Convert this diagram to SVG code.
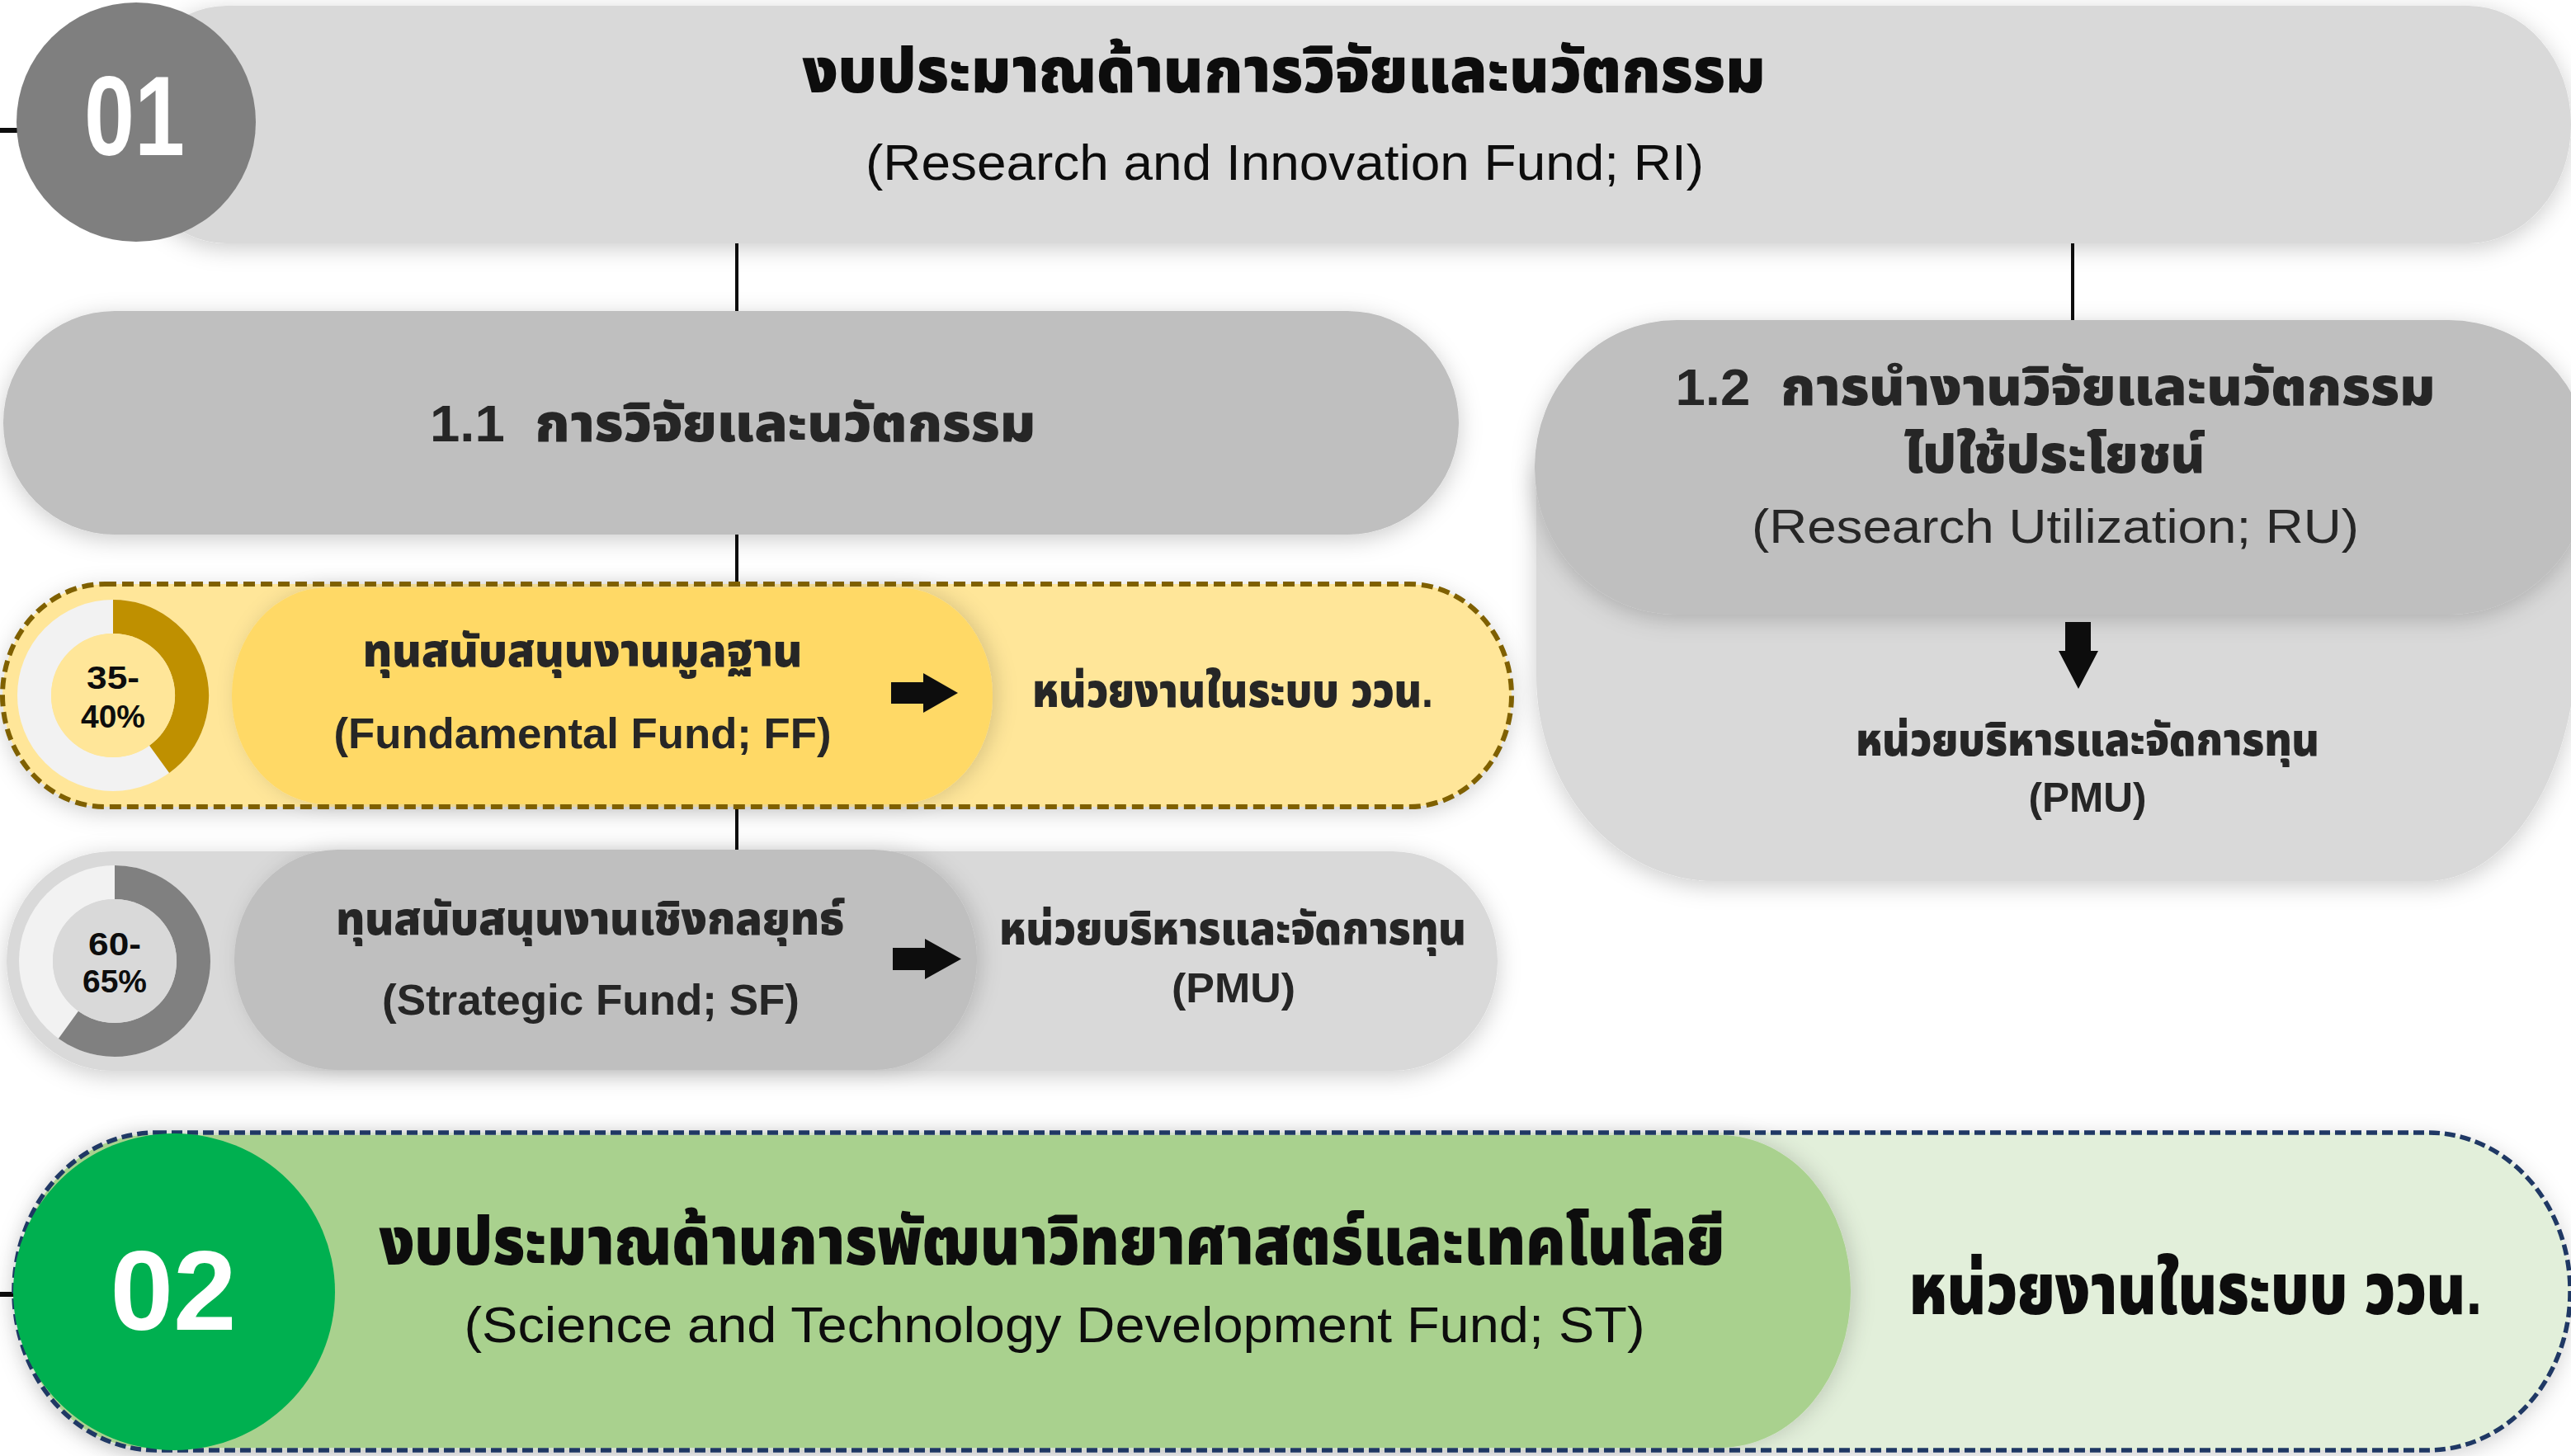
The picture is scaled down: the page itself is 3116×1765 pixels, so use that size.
<svg xmlns="http://www.w3.org/2000/svg" width="3116" height="1765" viewBox="0 0 3116 1765">
<defs>
<filter id="sh" x="-10%" y="-30%" width="120%" height="160%">
<feDropShadow dx="0" dy="6" stdDeviation="14" flood-color="#000" flood-opacity="0.2"/>
</filter>
<filter id="sh2" x="-10%" y="-20%" width="120%" height="140%">
<feDropShadow dx="6" dy="0" stdDeviation="12" flood-color="#000" flood-opacity="0.15"/>
</filter>
<style>
.t{font-family:'Liberation Sans','Noto Sans Thai','Noto Sans Thai UI',sans-serif;text-anchor:middle;white-space:pre}
.b{font-weight:900}
.k{fill:#0d0d0d}
.g{fill:#262626}
.w{fill:#ffffff}
.ln{stroke:#0d0d0d;stroke-width:4;fill:none}
.ar{fill:#0d0d0d}
</style>
</defs>
<rect width="3116" height="1765" fill="#ffffff"/>

<g id="connectors">
<line class="ln" x1="0" y1="158" x2="24" y2="158" style="stroke-width:6"/>
<line class="ln" x1="893" y1="295" x2="893" y2="380"/>
<line class="ln" x1="2512" y1="295" x2="2512" y2="390"/>
<line class="ln" x1="893" y1="646" x2="893" y2="710"/>
<line class="ln" x1="893" y1="976" x2="893" y2="1032"/>
<line class="ln" x1="0" y1="1569" x2="20" y2="1569" style="stroke-width:6"/>
</g>

<g id="n01">
<rect x="150" y="7" width="2966" height="288" rx="125" ry="144" fill="#d9d9d9" filter="url(#sh)"/>
<circle cx="165" cy="148" r="145" fill="#7f7f7f"/>
<text class="t b w" x="163" y="188" font-size="138" textLength="122" lengthAdjust="spacingAndGlyphs">01</text>
<text class="t b k" x="1556" y="112" font-size="76" textLength="1167" lengthAdjust="spacingAndGlyphs">งบประมาณด้านการวิจัยและนวัตกรรม</text>
<text class="t k" x="1557" y="218" font-size="62" textLength="1016" lengthAdjust="spacingAndGlyphs">(Research and Innovation Fund; RI)</text>
</g>

<g id="n11">
<rect x="4" y="377" width="1764" height="271" rx="135" ry="135" fill="#bfbfbf" filter="url(#sh)"/>
<text class="t b g" x="888" y="535" font-size="63" textLength="734" lengthAdjust="spacingAndGlyphs">1.1  การวิจัยและนวัตกรรม</text>
</g>

<g id="n12">
<path d="M1862,562 H3124 V768 A183,300 0 0 1 2941,1068 H2077 A215,249 0 0 1 1862,819 Z" fill="#d9d9d9" filter="url(#sh)"/>
<rect x="1860" y="388" width="1280" height="357" rx="172" ry="178" fill="#bfbfbf" filter="url(#sh)"/>
<text class="t b g" x="2491" y="491" font-size="63" textLength="921" lengthAdjust="spacingAndGlyphs">1.2  การนำงานวิจัยและนวัตกรรม</text>
<text class="t b g" x="2490" y="573" font-size="63" textLength="365" lengthAdjust="spacingAndGlyphs">ไปใช้ประโยชน์</text>
<text class="t g" x="2491" y="658" font-size="58" textLength="736" lengthAdjust="spacingAndGlyphs">(Research Utilization; RU)</text>
<polygon class="ar" points="2503,754 2534,754 2534,789 2543,789 2519,835 2495,789 2503,789"/>
<text class="t b g" x="2530" y="916" font-size="55" textLength="562" lengthAdjust="spacingAndGlyphs">หน่วยบริหารและจัดการทุน</text>
<text class="t b g" x="2530" y="984" font-size="50" textLength="143" lengthAdjust="spacingAndGlyphs">(PMU)</text>
</g>

<g id="nFF">
<rect x="3" y="708" width="1829" height="270" rx="124" ry="135" fill="#ffe699" filter="url(#sh)"/>
<rect x="281" y="712" width="922" height="263" rx="116" ry="131" fill="#ffd966" filter="url(#sh2)"/>
<rect x="3" y="708" width="1829" height="270" rx="124" ry="135" fill="none" stroke="#7f6000" stroke-width="6" stroke-dasharray="14 7"/>
<circle cx="137" cy="843" r="95.5" fill="none" stroke="#f2f2f2" stroke-width="41"/>
<path d="M137,747.5 A95.5,95.5 0 0 1 193.1,920.3" fill="none" stroke="#bf9000" stroke-width="41"/>
<circle cx="137" cy="843" r="75" fill="#ffe699"/>
<text class="t b k" x="137" y="835" font-size="38" textLength="64" lengthAdjust="spacingAndGlyphs">35-</text>
<text class="t b k" x="137" y="882" font-size="38" textLength="78" lengthAdjust="spacingAndGlyphs">40%</text>
<text class="t b g" x="706" y="808" font-size="55" textLength="533" lengthAdjust="spacingAndGlyphs">ทุนสนับสนุนงานมูลฐาน</text>
<text class="t b g" x="706" y="907" font-size="52" textLength="603" lengthAdjust="spacingAndGlyphs">(Fundamental Fund; FF)</text>
<polygon class="ar" points="1080,827 1119,827 1119,816 1161,840 1119,864 1119,853 1080,853"/>
<text class="t b g" x="1494" y="857" font-size="57" textLength="486" lengthAdjust="spacingAndGlyphs">หน่วยงานในระบบ ววน.</text>
</g>

<g id="nSF">
<rect x="8" y="1032" width="1807" height="266" rx="128" ry="133" fill="#d9d9d9" filter="url(#sh)"/>
<rect x="284" y="1030" width="900" height="267" rx="125" ry="133" fill="#bfbfbf" filter="url(#sh2)"/>
<circle cx="139" cy="1165" r="95.5" fill="none" stroke="#f2f2f2" stroke-width="41"/>
<path d="M139,1069.5 A95.5,95.5 0 1 1 82.9,1242.3" fill="none" stroke="#808080" stroke-width="41"/>
<circle cx="139" cy="1165" r="75" fill="#d9d9d9"/>
<text class="t b k" x="139" y="1158" font-size="38" textLength="64" lengthAdjust="spacingAndGlyphs">60-</text>
<text class="t b k" x="139" y="1203" font-size="38" textLength="78" lengthAdjust="spacingAndGlyphs">65%</text>
<text class="t b g" x="715" y="1133" font-size="55" textLength="616" lengthAdjust="spacingAndGlyphs">ทุนสนับสนุนงานเชิงกลยุทธ์</text>
<text class="t b g" x="716" y="1230" font-size="52" textLength="506" lengthAdjust="spacingAndGlyphs">(Strategic Fund; SF)</text>
<polygon class="ar" points="1082,1149 1121,1149 1121,1138 1165,1162.5 1121,1187 1121,1176 1082,1176"/>
<text class="t b g" x="1494" y="1145" font-size="55" textLength="566" lengthAdjust="spacingAndGlyphs">หน่วยบริหารและจัดการทุน</text>
<text class="t b g" x="1495" y="1215" font-size="50" textLength="150" lengthAdjust="spacingAndGlyphs">(PMU)</text>
</g>

<g id="n02">
<rect x="17" y="1373" width="3098" height="385" rx="172" ry="192" fill="#e2efda" filter="url(#sh)"/>
<rect x="20" y="1376" width="2223" height="379" rx="158" ry="189" fill="#a9d18e" filter="url(#sh2)"/>
<rect x="17" y="1373" width="3098" height="385" rx="172" ry="192" fill="none" stroke="#1f3864" stroke-width="5.5" stroke-dasharray="13 6"/>
<ellipse cx="211" cy="1566" rx="195" ry="192" fill="#00b050"/>
<text class="t b w" x="210" y="1612" font-size="138" textLength="153" lengthAdjust="spacingAndGlyphs">02</text>
<text class="t b k" x="1275" y="1533" font-size="82" textLength="1631" lengthAdjust="spacingAndGlyphs">งบประมาณด้านการพัฒนาวิทยาศาสตร์และเทคโนโลยี</text>
<text class="t k" x="1278" y="1627" font-size="61" textLength="1431" lengthAdjust="spacingAndGlyphs">(Science and Technology Development Fund; ST)</text>
<text class="t b k" x="2661" y="1593" font-size="86" textLength="695" lengthAdjust="spacingAndGlyphs">หน่วยงานในระบบ ววน.</text>
</g>
</svg>
